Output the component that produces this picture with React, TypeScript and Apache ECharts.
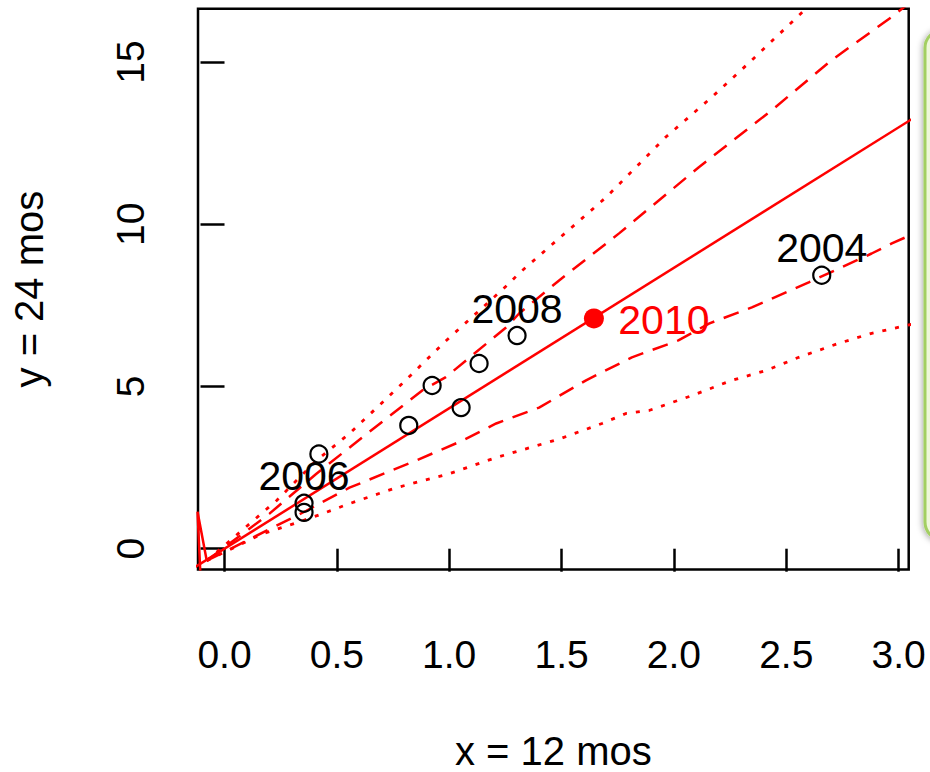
import { useEffect, useRef } from "react";
import * as echarts from "echarts";

const FONT = '"Liberation Sans", Arial, Helvetica, sans-serif';
const RED = "#ff0000";

// axis ranges and tick positions
const xRange = [-0.118, 3.045];
const yRange = [-0.641, 16.646];
const xTicks = [0, 0.5, 1, 1.5, 2, 2.5, 3];
const yTicks = [0, 5, 10, 15];

// observed years: 12-month value (x) vs 24-month value (y)
const pastYears: number[][] = [
  [2.658, 8.43],
  [1.302, 6.57],
  [1.133, 5.71],
  [0.924, 5.03],
  [1.053, 4.35],
  [0.82, 3.8],
  [0.42, 2.92],
  [0.354, 1.4],
  [0.354, 1.12],
];
const pastLabels = ["2004", "2008", "", "", "", "", "", "2006", ""];

const currentYear = [1.644, 7.1];
const currentLabel = "2010";

// fitted ratio line through the origin
const fitLine = [
  [-0.13, -0.563],
  [3.1, 13.42],
];

// prediction bands
const upperDotted = [
  [-0.079, -0.37], [0.231, 1.48], [0.409, 2.72], [0.556, 3.55], [0.791, 5.09],
  [0.987, 6.42], [1.267, 8.18], [1.311, 8.49], [1.698, 10.83], [1.964, 12.69],
  [2.169, 13.92], [2.347, 15.06], [2.591, 16.67], [2.65, 17.05],
];
const upperDashed = [
  [-0.079, -0.37], [0.2, 1.08], [0.409, 2.31], [0.613, 3.43], [0.88, 4.88],
  [0.985, 5.29], [1.253, 6.82], [1.311, 7.25], [1.489, 8.27], [1.756, 9.72],
  [2.111, 11.76], [2.436, 13.52], [2.702, 15.06], [2.969, 16.39], [3.08, 17.0],
];
const lowerDashed = [
  [-0.079, -0.37], [0.364, 1.17], [0.556, 1.88], [0.853, 2.72], [1.058, 3.33],
  [1.209, 3.86], [1.4, 4.35], [1.609, 5.19], [1.813, 5.9], [2.02, 6.42],
  [2.156, 6.94], [2.347, 7.44], [2.6, 8.21], [2.88, 9.1], [2.97, 9.41], [3.08, 9.75],
];
const lowerDotted = [
  [-0.079, -0.37], [0.169, 0.46], [0.347, 0.86], [0.436, 1.08], [0.556, 1.39],
  [0.764, 1.88], [1.0, 2.31], [1.209, 2.81], [1.489, 3.38], [1.68, 3.86],
  [1.787, 4.17], [1.889, 4.26], [2.08, 4.72], [2.258, 5.19], [2.409, 5.49],
  [2.556, 5.9], [2.733, 6.33], [2.88, 6.64], [3.08, 6.95],
];
// short excursion of the bands below zero
const tailLine = [
  [-0.108, -0.68],
  [-0.12, 1.14],
  [-0.079, -0.37],
];

function bandSeries(data: number[][], dash: number[], width: number) {
  return {
    type: "line",
    data,
    symbol: "none",
    showSymbol: false,
    clip: true,
    silent: true,
    z: 2,
    lineStyle: { color: RED, width, type: dash },
  };
}

function pointLabel(text: string, color: string, offset: number[]) {
  return {
    show: text !== "",
    formatter: text,
    position: "inside",
    offset,
    fontSize: 41,
    color,
    fontFamily: FONT,
    textBorderWidth: 0,
    textBorderColor: "transparent",
    opacity: 1,
  };
}

export default function App() {
  const ref = useRef<HTMLDivElement>(null);

  useEffect(() => {
    if (!ref.current) return;
    const chart = echarts.init(ref.current, null, { renderer: "svg" });

    chart.setOption({
      animation: false,
      backgroundColor: "#ffffff",
      textStyle: { fontFamily: FONT },
      grid: {
        left: 198,
        top: 8.7,
        width: 710.7,
        height: 560.8,
        containLabel: false,
        outerBoundsMode: "none",
        show: true,
        borderColor: "#000",
        borderWidth: 2.5,
        backgroundColor: "transparent",
      },
      xAxis: {
        type: "value",
        min: xRange[0],
        max: xRange[1],
        axisLine: { show: false },
        splitLine: { show: false },
        axisTick: {
          show: true,
          inside: false,
          customValues: xTicks,
          length: 23,
          lineStyle: { color: "#000", width: 2.5 },
        },
        axisLabel: {
          customValues: xTicks,
          formatter: (v: number) => v.toFixed(1),
          margin: 65,
          fontSize: 39,
          color: "#000",
          fontFamily: FONT,
        },
        name: "x = 12 mos",
        nameLocation: "middle",
        nameGap: 162,
        nameTextStyle: { fontSize: 40, lineHeight: 38, color: "#000", fontFamily: FONT },
      },
      yAxis: {
        type: "value",
        min: yRange[0],
        max: yRange[1],
        axisLine: { show: false },
        splitLine: { show: false },
        axisTick: {
          show: true,
          inside: false,
          customValues: yTicks,
          length: 24,
          lineStyle: { color: "#000", width: 2.5 },
        },
        axisLabel: {
          customValues: yTicks,
          formatter: (v: number) => String(v),
          rotate: 90,
          margin: 48,
          fontSize: 39,
          color: "#000",
          fontFamily: FONT,
        },
        name: "y = 24 mos",
        nameLocation: "middle",
        nameGap: 149,
        nameTextStyle: { fontSize: 40, color: "#000", fontFamily: FONT },
      },
      graphic: [
        {
          type: "rect",
          shape: { x: 925, y: 30, width: 80, height: 510, r: 18 },
          style: {
            fill: "#eef8da",
            stroke: "#a3cf62",
            lineWidth: 3,
            shadowBlur: 6,
            shadowColor: "rgba(0,0,0,0.35)",
            shadowOffsetX: -1,
            shadowOffsetY: 1,
          },
          z: 10,
        },
      ],
      series: [
        bandSeries(upperDotted, [4, 9], 2.8),
        bandSeries(lowerDotted, [4, 9], 2.8),
        bandSeries(upperDashed, [16, 10], 2.5),
        bandSeries(lowerDashed, [16, 10], 2.5),
        {
          type: "line",
          data: tailLine,
          symbol: "none",
          showSymbol: false,
          clip: true,
          silent: true,
          z: 2,
          lineStyle: { color: RED, width: 2.5 },
        },
        {
          type: "line",
          data: fitLine,
          symbol: "none",
          showSymbol: false,
          clip: true,
          silent: true,
          z: 3,
          lineStyle: { color: RED, width: 2.5 },
        },
        {
          type: "scatter",
          z: 4,
          symbol: "circle",
          symbolSize: 17,
          itemStyle: { color: "rgba(0,0,0,0)", borderColor: "#000", borderWidth: 2.2, opacity: 1 },
          data: pastYears.map((p, i) => ({
            value: p,
            label: pointLabel(pastLabels[i], "#000", [0, -27]),
          })),
        },
        {
          type: "scatter",
          z: 5,
          symbol: "circle",
          symbolSize: 20,
          itemStyle: { color: RED, opacity: 1 },
          data: [
            {
              value: currentYear,
              label: pointLabel(currentLabel, RED, [70, 2]),
            },
          ],
        },
      ],
    });

    return () => chart.dispose();
  }, []);

  return (
    <div
      ref={ref}
      style={{ position: "fixed", left: 0, top: 0, width: 930, height: 772 }}
    />
  );
}
